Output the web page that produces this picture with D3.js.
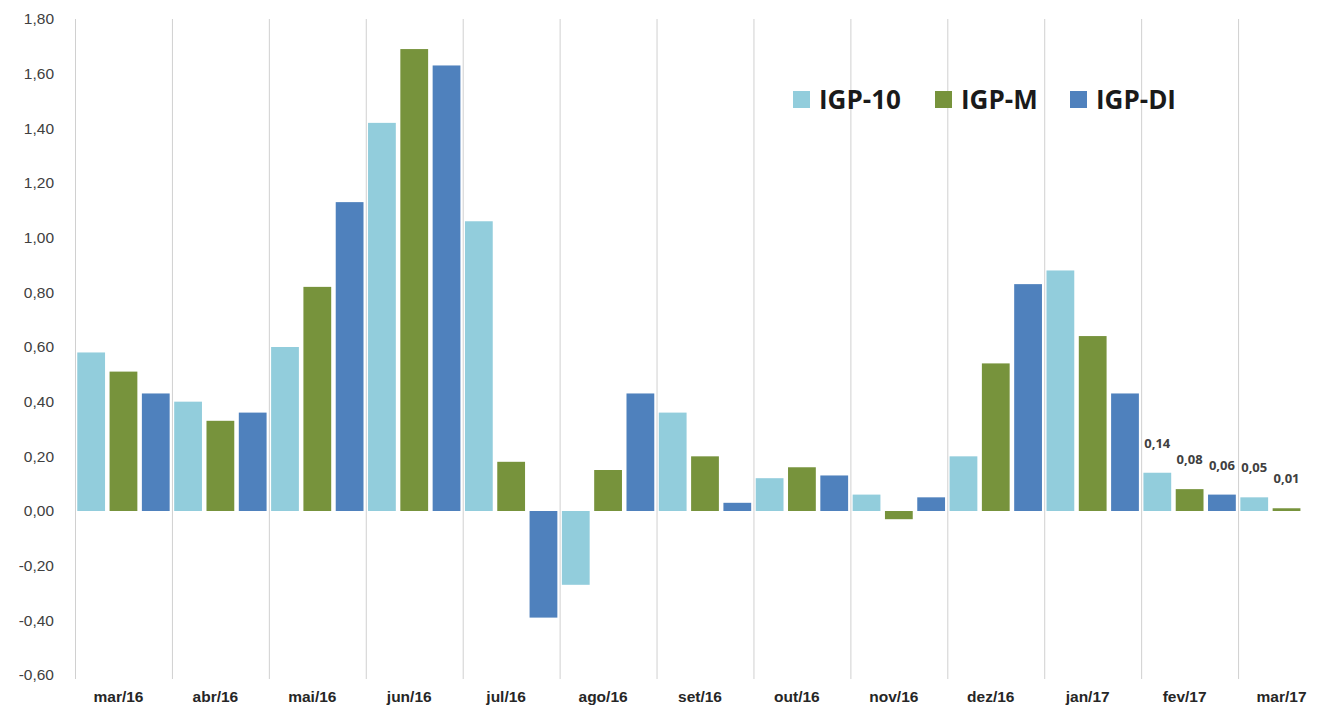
<!DOCTYPE html>
<html lang="pt">
<head>
	<meta charset="UTF-8">
	<title>IGP-10, IGP-M, IGP-DI</title>
	<script src="https://cdn.jsdelivr.net/npm/d3@7"></script>
	<style type="text/css">
		body { margin: 0; background: #fff; font-family: "Open Sans", "Liberation Sans", sans-serif; }
		.tick text { fill: #404040; }
	</style>
</head>
<body>
<script type="text/javascript">
	var months = ['mar/16', 'abr/16', 'mai/16', 'jun/16', 'jul/16', 'ago/16', 'set/16',
		'out/16', 'nov/16', 'dez/16', 'jan/17', 'fev/17', 'mar/17'];
	var seriesNames = ['IGP-10', 'IGP-M', 'IGP-DI'];
	var igp10 = [0.58, 0.40, 0.60, 1.42, 1.06, -0.27, 0.36, 0.12, 0.06, 0.20, 0.88, 0.14, 0.05];
	var igpM = [0.51, 0.33, 0.82, 1.69, 0.18, 0.15, 0.20, 0.16, -0.03, 0.54, 0.64, 0.08, 0.01];
	var igpDI = [0.43, 0.36, 1.13, 1.63, -0.39, 0.43, 0.03, 0.13, 0.05, 0.83, 0.43, 0.06, null];
	var labelledMonths = ['fev/17', 'mar/17'];
	var yTicks = [-0.6, -0.4, -0.2, 0, 0.2, 0.4, 0.6, 0.8, 1.0, 1.2, 1.4, 1.6, 1.8];

	window.onload = function () {
		var width = 1319, height = 712;
		var colors = {'IGP-10': '#92cddc', 'IGP-M': '#77933c', 'IGP-DI': '#4f81bd'};
		var values = {'IGP-10': igp10, 'IGP-M': igpM, 'IGP-DI': igpDI};
		// pt-BR style, plain hyphen for negatives
		var fmt = function (v) {
			return (v < 0 ? '-' : '') + Math.abs(v).toFixed(2).replace('.', ',');
		};

		var svg = d3.select('body').append('svg')
			.attr('width', width)
			.attr('height', height);

		var x = d3.scaleBand().domain(months).range([75, 1335]).padding(0);
		var x1 = d3.scaleBand().domain(seriesNames).range([0, x.bandwidth()])
			.paddingInner(0.14).paddingOuter(0.07);
		var y = d3.scaleLinear().domain([-0.6, 1.8]).range([675, 19]);

		// vertical separators between months
		svg.append('g').selectAll('line')
			.data(months)
			.enter().append('line')
			.attr('x1', function (d) { return x(d) + 0.5; })
			.attr('x2', function (d) { return x(d) + 0.5; })
			.attr('y1', y(1.8))
			.attr('y2', y(-0.6) + 4)
			.style('stroke', '#d0d0d0')
			.style('stroke-width', 1);

		// y axis (labels only)
		var yAxis = svg.append('g')
			.attr('transform', 'translate(56,0)')
			.call(d3.axisLeft(y).tickValues(yTicks).tickFormat(fmt).tickSize(0).tickPadding(2));
		yAxis.select('.domain').remove();
		yAxis.selectAll('text').style('font-size', '15.5px').style('font-family', '"Liberation Sans", sans-serif');

		// x axis labels
		var xAxis = svg.append('g')
			.attr('transform', 'translate(0,' + (y(-0.6) + 8) + ')')
			.call(d3.axisBottom(x).tickSize(0).tickPadding(8));
		xAxis.select('.domain').remove();
		xAxis.selectAll('text')
			.style('font-size', '15.5px')
			.style('font-weight', 'bold')
			.style('fill', '#262626')
			.attr('dx', -5);

		var rows = [];
		months.forEach(function (m, i) {
			seriesNames.forEach(function (s) {
				if (values[s][i] !== null) rows.push({month: m, series: s, value: values[s][i]});
			});
		});

		svg.append('g').selectAll('rect')
			.data(rows)
			.enter().append('rect')
			.attr('x', function (d) { return x(d.month) + x1(d.series); })
			.attr('width', x1.bandwidth())
			.attr('y', function (d) { return y(Math.max(0, d.value)); })
			.attr('height', function (d) { return Math.abs(y(d.value) - y(0)); })
			.style('fill', function (d) { return colors[d.series]; });

		svg.append('g').selectAll('text')
			.data(rows.filter(function (d) { return labelledMonths.indexOf(d.month) >= 0; }))
			.enter().append('text')
			.attr('x', function (d) { return x(d.month) + x1(d.series) + x1.bandwidth() / 2; })
			.attr('y', function (d) { return y(d.value) - 25; })
			.attr('text-anchor', 'middle')
			.style('font-size', '13px')
			.style('font-weight', 'bold')
			.style('fill', '#404040')
			.text(function (d) { return fmt(d.value); });

		// legend
		var legendX = [793, 935, 1070];
		var legend = svg.append('g').selectAll('g')
			.data(seriesNames)
			.enter().append('g')
			.attr('transform', function (d, i) { return 'translate(' + legendX[i] + ',100)'; });
		legend.append('rect')
			.attr('x', 0).attr('y', -9)
			.attr('width', 17).attr('height', 17)
			.style('fill', function (d) { return colors[d]; });
		legend.append('text')
			.attr('x', 26).attr('y', 9)
			.style('font-size', '26px')
			.style('font-weight', 'bold')
			.style('fill', '#1a1a1a')
			.text(function (d) { return d; });
	};
</script>
</body>
</html>
